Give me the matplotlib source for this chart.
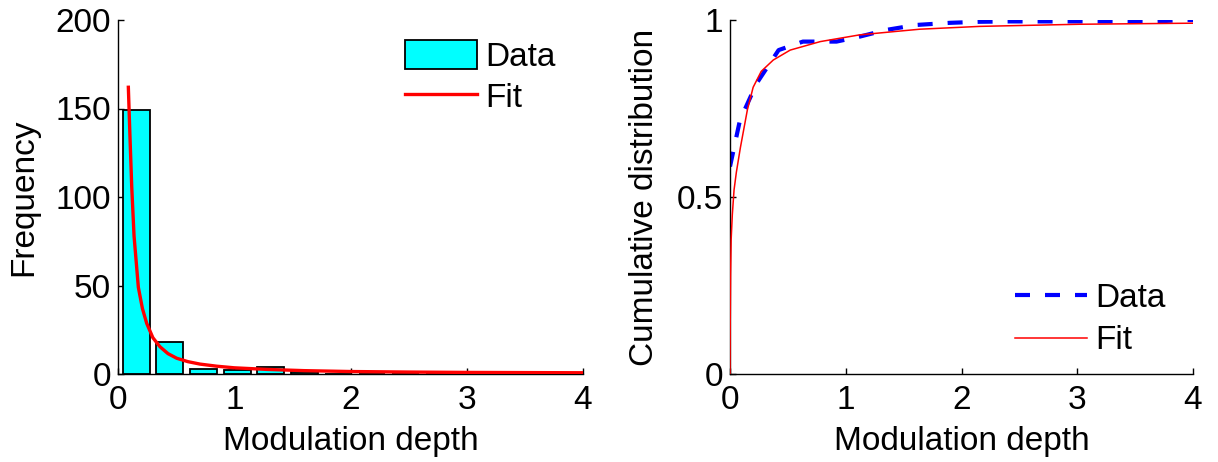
import matplotlib
matplotlib.use("Agg")
import matplotlib.pyplot as plt

plt.rcParams['font.family'] = ['Liberation Sans', 'DejaVu Sans']

# Histogram data
bin_centers = [0.155, 0.445, 0.735, 1.025, 1.315, 1.605, 1.895, 2.185,
               2.475, 2.765, 3.055, 3.345, 3.635, 3.925]
counts = [149, 18, 3, 2, 4, 1, 0, 0, 0, 0, 0, 0, 1, 0]
bar_width = 0.232

# Fitted density
fit_x = [0.089, 0.103, 0.118, 0.138, 0.175, 0.21, 0.247, 0.30, 0.361, 0.43,
         0.505, 0.60, 0.705, 0.85, 1.0, 1.28, 1.6, 2.0, 2.5, 3.0, 3.5, 4.0]
fit_y = [162, 134, 106, 78, 49, 37, 28.6, 20.5, 15.4, 11.5,
         8.9, 7.0, 5.6, 4.4, 3.5, 2.6, 1.9, 1.4, 1.1, 0.9, 0.8, 0.7]

# Cumulative distribution
cdf_data_x = [0.0, 0.086, 0.23, 0.42, 0.63, 0.92, 1.12, 1.35, 1.61, 1.90,
              2.16, 2.42, 3.0, 3.68, 3.94, 4.0]
cdf_data_y = [0.586, 0.717, 0.821, 0.915, 0.939, 0.939, 0.953, 0.972, 0.986, 0.992,
              0.995, 0.996, 0.996, 0.996, 1.0, 1.0]

cdf_fit_x = [0.0, 0.002, 0.005, 0.01, 0.02, 0.035, 0.055, 0.09, 0.15, 0.20,
             0.27, 0.374, 0.52, 0.78, 1.12, 1.41, 1.64, 2.16, 3.02, 4.0]
cdf_fit_y = [0.0, 0.15, 0.28, 0.38, 0.45, 0.52, 0.57, 0.64, 0.746, 0.81,
             0.855, 0.887, 0.915, 0.939, 0.958, 0.967, 0.974, 0.982, 0.988, 0.991]

FS = 24

fig = plt.figure(figsize=(12.18, 4.62), dpi=100)
ax1 = fig.add_axes([118/1218, 88/462, 465/1218, 354/462])
ax2 = fig.add_axes([730/1218, 88/462, 463/1218, 354/462])

bars = ax1.bar(bin_centers, counts, width=bar_width, color='#00ffff',
               edgecolor='black', linewidth=1.3, label='Data', zorder=2)
line1, = ax1.plot(fit_x, fit_y, color='red', linewidth=2.4, label='Fit', zorder=3)
ax1.set_xlim(0, 4)
ax1.set_ylim(0, 200)
ax1.set_xticks([0, 1, 2, 3, 4])
ax1.set_yticks([0, 50, 100, 150, 200])
ax1.set_xlabel('Modulation depth', fontsize=FS, labelpad=7)
ax1.set_ylabel('Frequency', fontsize=FS, labelpad=12)
ax1.legend([bars, line1], ['Data', 'Fit'], loc='upper right', frameon=False,
           fontsize=FS, handlelength=2.16, handleheight=0.95,
           handletextpad=0.25, labelspacing=0.25,
           borderaxespad=0.0, bbox_to_anchor=(0.97, 0.98))

ax2.plot(cdf_data_x, cdf_data_y, color='blue', linewidth=3.0,
         linestyle=(0, (3.6, 3.6)), label='Data', zorder=2)
ax2.plot(cdf_fit_x, cdf_fit_y, color='red', linewidth=1.1, label='Fit', zorder=3)
ax2.set_xlim(0, 4)
ax2.set_ylim(0, 1)
ax2.set_xticks([0, 1, 2, 3, 4])
ax2.set_yticks([0, 0.5, 1])
ax2.set_yticklabels(['0', '0.5', '1'])
ax2.set_xlabel('Modulation depth', fontsize=FS, labelpad=7)
ax2.set_ylabel('Cumulative distribution', fontsize=FS, labelpad=12)
ax2.legend(loc='lower right', frameon=False, fontsize=FS,
           handlelength=2.16, handletextpad=0.25, labelspacing=0.35,
           borderaxespad=0.0, bbox_to_anchor=(0.97, 0.012))

for ax in (ax1, ax2):
    for s in ('top', 'right'):
        ax.spines[s].set_visible(False)
    for s in ('left', 'bottom'):
        ax.spines[s].set_linewidth(1.0)
    ax.tick_params(direction='in', length=4, width=1.0, labelsize=FS)
    ax.tick_params(axis='x', pad=8)
    ax.tick_params(axis='y', pad=5)

fig.savefig('out.png', dpi=100)
